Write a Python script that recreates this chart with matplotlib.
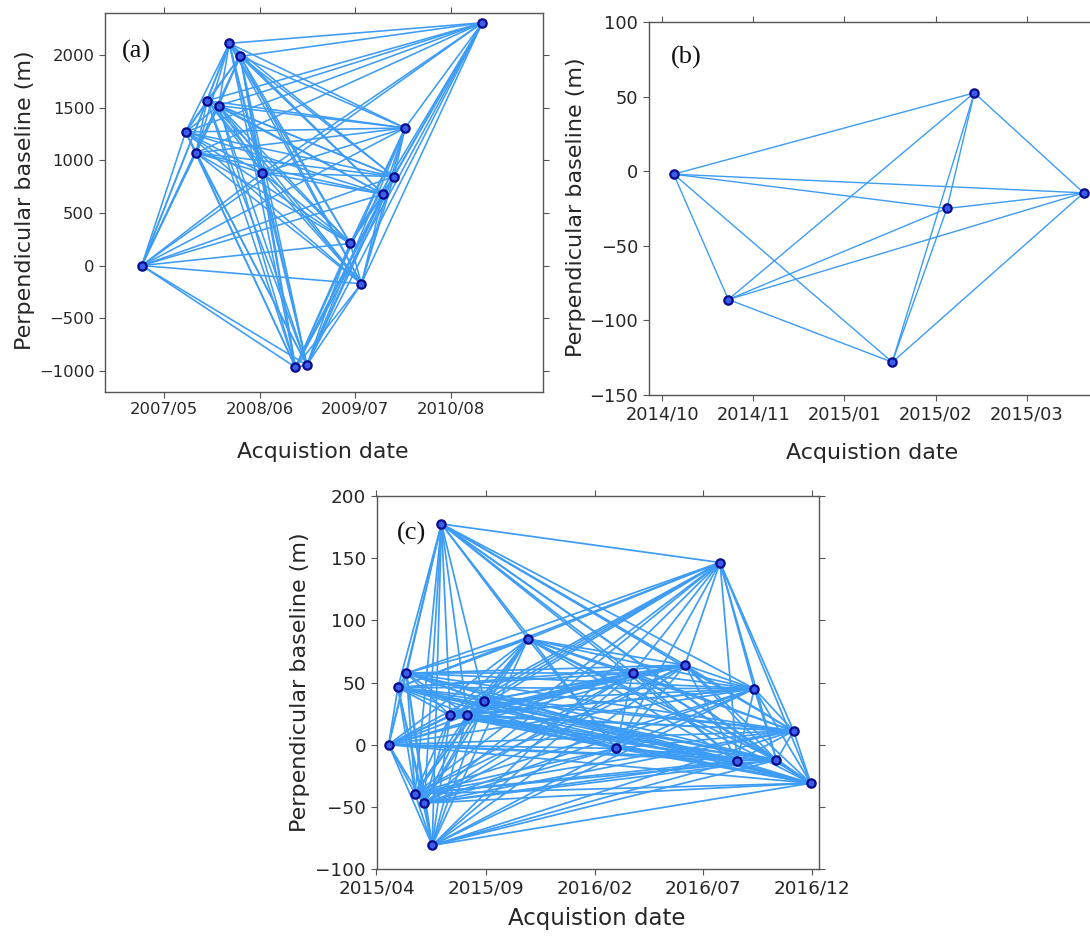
import itertools
import matplotlib
matplotlib.use('Agg')
import matplotlib.pyplot as plt
import matplotlib.dates as mdates

# ---------------------------------------------------------------------------
# (a) ALOS PALSAR network
a_dates = ['2007-01-29', '2007-07-30', '2007-09-11', '2007-10-27', '2007-12-14',
           '2008-01-27', '2008-03-12', '2008-06-12', '2008-10-27', '2008-12-13',
           '2009-06-11', '2009-07-27', '2009-10-25', '2009-12-09', '2010-01-24',
           '2010-12-10']
a_bperp = [0, 1271, 1072, 1569, 1522, 2114, 1990, 882, -968, -946,
           210, -173, 679, 847, 1309, 2310]
a_xticks = ['2007-05-01', '2008-06-01', '2009-07-01', '2010-08-01']
a_xlim = ['2006-08-30', '2011-08-17']
a_yticks = [-1000, -500, 0, 500, 1000, 1500, 2000]
a_ylim = [-1200, 2400]

# (b) Sentinel-1 short network
b_dates = ['2014-10-21', '2014-11-14', '2015-01-25', '2015-02-18', '2015-03-02',
           '2015-04-19']
b_bperp = [-2, -86, -128, -25, 52.5, -14.5]
b_xticks = ['2014-10-16', '2014-11-25', '2015-01-04', '2015-02-13', '2015-03-25']
b_xlim = ['2014-10-10', '2015-04-24']
b_yticks = [-150, -100, -50, 0, 50, 100]
b_ylim = [-150, 100]

# (c) Sentinel-1 long network
c_dates = ['2015-04-18', '2015-05-01', '2015-05-13', '2015-05-25', '2015-06-07',
           '2015-06-18', '2015-07-01', '2015-07-13', '2015-08-06', '2015-08-30',
           '2015-10-30', '2016-03-01', '2016-03-25', '2016-06-06', '2016-07-25',
           '2016-08-18', '2016-09-11', '2016-10-12', '2016-11-05', '2016-11-29']
c_bperp = [0, 46, 57.5, -39.5, -47, -81, 177.5, 23.5, 24, 35.5,
           85, -3, 57.5, 64, 146.5, -13, 45, -12.5, 11, -31]
c_xticks = ['2015-04-01', '2015-09-01', '2016-02-01', '2016-07-01', '2016-12-01']
c_xlim = ['2015-04-01', '2016-12-11']
c_yticks = [-100, -50, 0, 50, 100, 150, 200]
c_ylim = [-100, 200]

LINE_COLOR = '#3d9cf5'
TEXT_COLOR = '#262626'


def DrawNetwork(ax, dates, bperp, xticks, xlim, yticks, ylim, letter, fontsize,
                letterPos=(0.045, 0.9), lineWidth=1.0):
    x = mdates.datestr2num(dates)

    # every acquisition pair is an interferogram
    for i, j in itertools.combinations(range(len(x)), 2):
        ax.plot([x[i], x[j]], [bperp[i], bperp[j]], color=LINE_COLOR,
                linewidth=lineWidth, zorder=1)

    ax.plot(x, bperp, 'o', markersize=6, markerfacecolor='#3a5ee8',
            markeredgecolor='#0a0a8c', markeredgewidth=1.6, zorder=3)

    ax.set_xticks(mdates.datestr2num(xticks))
    ax.xaxis.set_major_formatter(mdates.DateFormatter('%Y/%m'))
    ax.set_xlim(mdates.datestr2num(xlim))
    ax.set_yticks(yticks)
    ax.set_ylim(ylim)

    ax.tick_params(direction='out', top=True, right=True, length=4, width=0.8,
                   color='#555555', labelsize=fontsize, labelcolor=TEXT_COLOR)
    for s in ax.spines.values():
        s.set_color('#555555')
        s.set_linewidth(1.0)

    ax.text(letterPos[0], letterPos[1], letter, transform=ax.transAxes, fontsize=19,
            family='Liberation Serif', color='#111111', va='center', ha='left')


fig = plt.figure(figsize=(10.9, 9.38), dpi=100)
W, H = 1090., 938.


def AxesFromPixels(left, top, right, bottom):
    return fig.add_axes([left / W, 1 - bottom / H, (right - left) / W, (bottom - top) / H])


ax1 = AxesFromPixels(105, 13.3, 542.7, 391.7)
DrawNetwork(ax1, a_dates, a_bperp, a_xticks, a_xlim, a_yticks, a_ylim, '(a)', 11.8,
            (0.038, 0.9), 1.15)

ax2 = AxesFromPixels(648.6, 22, 1095, 395)
DrawNetwork(ax2, b_dates, b_bperp, b_xticks, b_xlim, b_yticks, b_ylim, '(b)', 12.8,
            (0.05, 0.905), 1.0)

ax3 = AxesFromPixels(376.5, 496, 819.3, 869)
DrawNetwork(ax3, c_dates, c_bperp, c_xticks, c_xlim, c_yticks, c_ylim, '(c)', 13.2,
            (0.045, 0.9), 1.25)

# axis titles placed where they sit in the composed figure
label_kw = dict(color=TEXT_COLOR, ha='center', va='center')
fig.text(25 / W, 1 - 200 / H, 'Perpendicular baseline (m)', rotation=90,
         fontsize=16, **label_kw)
fig.text(323 / W, 1 - 452 / H, 'Acquistion date', fontsize=15.8, **label_kw)
fig.text(576 / W, 1 - 207 / H, 'Perpendicular baseline (m)', rotation=90,
         fontsize=16, **label_kw)
fig.text(872 / W, 1 - 453 / H, 'Acquistion date', fontsize=15.9, **label_kw)
fig.text(300 / W, 1 - 682 / H, 'Perpendicular baseline (m)', rotation=90,
         fontsize=16, **label_kw)
fig.text(597 / W, 1 - 918 / H, 'Acquistion date', fontsize=16.5, **label_kw)

fig.savefig('out.png', dpi=100)
